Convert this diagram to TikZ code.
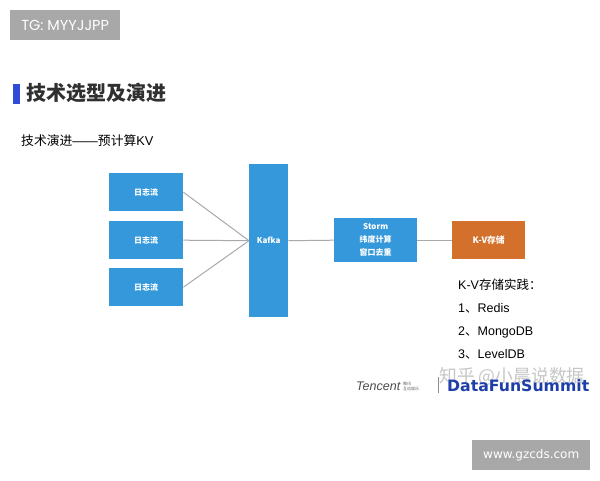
\documentclass[tikz,border=0pt]{standalone}
\usepackage{fontspec}
\setmainfont{Liberation Sans}
\newfontfamily\cjk{Noto Sans CJK SC}
\newfontfamily\wide{DejaVu Sans}
\newfontfamily\tagfont{Poppins}
\definecolor{boxblue}{HTML}{3498DB}
\definecolor{boxorange}{HTML}{D2702C}
\definecolor{barblue}{HTML}{2F4BD8}
\definecolor{tagfill}{HTML}{A8A8A8}
\definecolor{linegray}{HTML}{A9A9A9}
\definecolor{inkgray}{HTML}{303030}
\definecolor{logoblue}{HTML}{1F3FA8}
\tikzset{
  flowbox/.style={fill=boxblue,text=white,font=\cjk\bfseries\fontsize{8}{13}\selectfont,align=center,inner sep=0pt,anchor=north west},
  tagbox/.style={fill=tagfill,text=white,inner sep=0pt,anchor=north west,font=\wide\fontsize{12}{14}\selectfont},
  flowline/.style={linegray,line width=1pt},
  plain/.style={inner sep=0pt,anchor=west,text=black},
  listitem/.style={plain,font=\fontsize{12.5}{15}\selectfont,text height=9pt,text depth=3pt}
}
\begin{document}
\begin{tikzpicture}[x=1pt,y=-1pt]
\useasboundingbox (0,0) rectangle (600,480);
\fill[white] (0,0) rectangle (600,480);
\node[tagbox,minimum width=110pt,minimum height=30pt,font=\tagfont\fontsize{14.5}{16}\selectfont] (tag) at (10,10) {TG: MYYJJPP};
\node[tagbox,minimum width=118pt,minimum height=30pt] (site) at (472,440) {www.gzcds.com};
\node[fill=barblue,inner sep=0pt,minimum width=7pt,minimum height=20pt,anchor=north west] (bar) at (12.5,83.5) {};
\node[plain,text=inkgray,font=\cjk\bfseries\fontsize{20}{22}\selectfont] (title) at (26,93) {技术选型及演进};
\node[plain,font=\fontsize{12.8}{15}\selectfont] (sub) at (21,141) {{\cjk 技术演进}——{\cjk 预计算}KV};
\node[flowbox,minimum width=74pt,minimum height=38pt] (log1) at (109,173) {日志流};
\node[flowbox,minimum width=74pt,minimum height=38pt] (log2) at (109,221) {日志流};
\node[flowbox,minimum width=74pt,minimum height=38pt] (log3) at (109,268) {日志流};
\node[flowbox,minimum width=39pt,minimum height=153pt] (kafka) at (249,164) {Kafka};
\node[flowbox,minimum width=83pt,minimum height=44pt] (storm) at (334,218) {Storm\\纬度计算\\窗口去重};
\node[flowbox,fill=boxorange,minimum width=73pt,minimum height=38pt,font=\cjk\bfseries\fontsize{8.8}{13}\selectfont] (kv) at (452,221) {K-V存储};
\draw[flowline] (log1.east)--(kafka.west);
\draw[flowline] (log2.east)--(kafka.west);
\draw[flowline] (log3.east)--(kafka.west);
\draw[flowline] (kafka.east)--(storm.west);
\draw[flowline] (storm.east)--(kv.west);
\node[listitem] (kvhead) at (458,286) {K-V{\cjk 存储实践：}};
\node[listitem] (kv1) at (458,309) {1{\cjk 、}Redis};
\node[listitem] (kv2) at (458,332) {2{\cjk 、}MongoDB};
\node[listitem] (kv3) at (458,355) {3{\cjk 、}LevelDB};
\node[plain,text=black!70,font=\itshape\fontsize{12.5}{13}\selectfont] (tencent) at (356,386) {Tencent};
\node[plain,text=black!60,font=\cjk\fontsize{4}{5}\selectfont,align=left] (ieg) at (403,386) {腾讯\\互动娱乐};
\draw[black!45,line width=.8pt] (438,377)--(438,393);
\node[plain,text=black!22,font=\cjk\fontsize{17.8}{20}\selectfont] (mark) at (439,377) {知乎 @小晨说数据};
\node[plain,text=logoblue,font=\wide\bfseries\fontsize{15.7}{17}\selectfont] (dfs) at (447,386) {DataFunSummit};
\end{tikzpicture}
\end{document}
